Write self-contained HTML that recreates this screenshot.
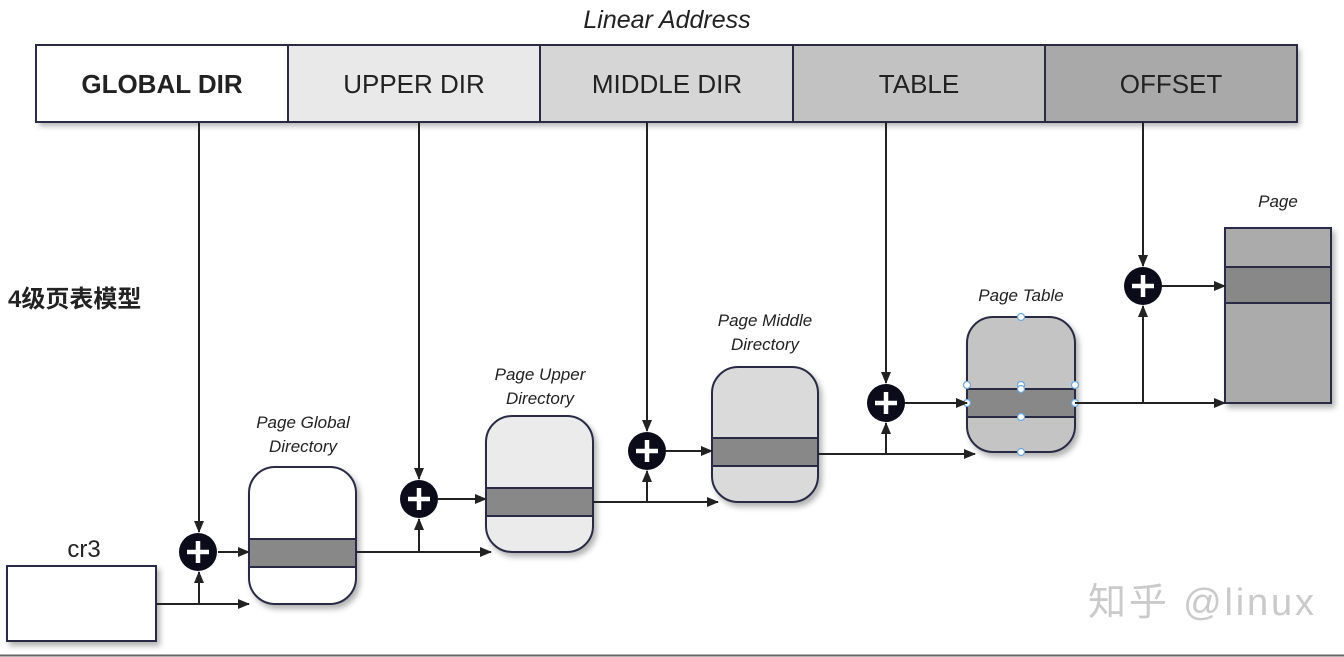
<!DOCTYPE html>
<html><head><meta charset="utf-8"><style>
html,body{margin:0;padding:0;background:#fff;width:1344px;height:657px;overflow:hidden}
svg text{font-family:"Liberation Sans","Noto Sans CJK SC",sans-serif}
</style></head><body>
<svg width="1344" height="657" viewBox="0 0 1344 657" xmlns="http://www.w3.org/2000/svg">
<defs>
<marker id="a" markerWidth="12" markerHeight="10" refX="11" refY="5" orient="auto" markerUnits="userSpaceOnUse"><path d="M0,0 L12,5 L0,10 z" fill="#222"/></marker>
<filter id="sh" x="-10%" y="-10%" width="130%" height="130%"><feDropShadow dx="3" dy="4" stdDeviation="3" flood-color="#000" flood-opacity="0.3"/></filter>
</defs>
<rect x="0" y="0" width="1344" height="657" fill="#fff"/>
<line x1="0" y1="655.5" x2="1344" y2="655.5" stroke="#666" stroke-width="2"/>
<text x="667" y="28" font-size="25" font-style="italic" text-anchor="middle" fill="#222">Linear Address</text>
<g filter="url(#sh)">
<rect x="36" y="45" width="252" height="77" fill="#fff"/>
<rect x="288" y="45" width="252" height="77" fill="#e9e9e9"/>
<rect x="540" y="45" width="253" height="77" fill="#d6d6d6"/>
<rect x="793" y="45" width="252" height="77" fill="#c2c2c2"/>
<rect x="1045" y="45" width="252" height="77" fill="#a9a9a9"/>
</g>
<g fill="none" stroke="#2a2a44" stroke-width="2">
<rect x="36" y="45" width="1261" height="77"/>
<line x1="288" y1="45" x2="288" y2="122"/><line x1="540" y1="45" x2="540" y2="122"/>
<line x1="793" y1="45" x2="793" y2="122"/><line x1="1045" y1="45" x2="1045" y2="122"/>
</g>
<g font-size="26" fill="#222" text-anchor="middle">
<text x="162" y="93" font-weight="bold">GLOBAL DIR</text>
<text x="414" y="93">UPPER DIR</text>
<text x="667" y="93">MIDDLE DIR</text>
<text x="919" y="93">TABLE</text>
<text x="1171" y="93">OFFSET</text>
</g>
<text x="8" y="307" font-size="24" font-weight="bold" fill="#222">4级页表模型</text>
<text x="84" y="557" font-size="24" text-anchor="middle" fill="#222">cr3</text>
<rect x="7" y="566" width="149" height="75" fill="#fff" stroke="#2a2a44" stroke-width="2" filter="url(#sh)"/>
<g stroke="#2a2a44" stroke-width="2" filter="url(#sh)">
<rect x="249" y="467" width="107" height="137" rx="26" fill="#fff"/>
<rect x="486" y="416" width="107" height="136" rx="26" fill="#ebebeb"/>
<rect x="712" y="367" width="106" height="135" rx="26" fill="#dadada"/>
<rect x="967" y="317" width="108" height="135" rx="26" fill="#c4c4c4"/>
<rect x="1225" y="228" width="106" height="175" fill="#ababab"/>
</g>
<g fill="#888" stroke="#2a2a44" stroke-width="2">
<rect x="249" y="539" width="107" height="28"/>
<rect x="486" y="488" width="107" height="28"/>
<rect x="712" y="438" width="106" height="28"/>
<rect x="967" y="389" width="108" height="28"/>
<rect x="1225" y="267" width="106" height="36"/>
</g>
<g fill="#fff" stroke="#6fa8dc" stroke-width="1.2">
<circle cx="1021" cy="317" r="3.5"/><circle cx="1021" cy="452" r="3.5"/><circle cx="1021" cy="385" r="3.5"/><circle cx="1021" cy="389" r="3.5"/><circle cx="1021" cy="417" r="3.5"/>
<circle cx="967" cy="385" r="3.5"/><circle cx="1075" cy="385" r="3.5"/><circle cx="967" cy="403" r="3.5"/><circle cx="1075" cy="403" r="3.5"/>
</g>
<g font-size="17" font-style="italic" fill="#222" text-anchor="middle">
<text x="303" y="428">Page  Global</text><text x="303" y="452">Directory</text>
<text x="540" y="380">Page  Upper</text><text x="540" y="404">Directory</text>
<text x="765" y="326">Page  Middle</text><text x="765" y="350">Directory</text>
<text x="1021" y="301">Page  Table</text>
<text x="1278" y="207">Page</text>
</g>
<g stroke="#222" stroke-width="2" fill="none">
<line x1="199" y1="122" x2="199" y2="532" marker-end="url(#a)"/>
<line x1="419" y1="122" x2="419" y2="479" marker-end="url(#a)"/>
<line x1="647" y1="122" x2="647" y2="431" marker-end="url(#a)"/>
<line x1="886" y1="122" x2="886" y2="383" marker-end="url(#a)"/>
<line x1="1143" y1="122" x2="1143" y2="266" marker-end="url(#a)"/>
<line x1="156" y1="604" x2="249" y2="604" marker-end="url(#a)"/>
<line x1="199" y1="604" x2="199" y2="572" marker-end="url(#a)"/>
<line x1="218" y1="552" x2="249" y2="552" marker-end="url(#a)"/>
<line x1="356" y1="552" x2="491" y2="552" marker-end="url(#a)"/>
<line x1="419" y1="552" x2="419" y2="519" marker-end="url(#a)"/>
<line x1="438" y1="499" x2="486" y2="499" marker-end="url(#a)"/>
<line x1="593" y1="502" x2="718" y2="502" marker-end="url(#a)"/>
<line x1="647" y1="502" x2="647" y2="471" marker-end="url(#a)"/>
<line x1="666" y1="451" x2="712" y2="451" marker-end="url(#a)"/>
<line x1="818" y1="454" x2="975" y2="454" marker-end="url(#a)"/>
<line x1="886" y1="454" x2="886" y2="423" marker-end="url(#a)"/>
<line x1="905" y1="403" x2="967" y2="403" marker-end="url(#a)"/>
<line x1="1075" y1="403" x2="1225" y2="403" marker-end="url(#a)"/>
<line x1="1143" y1="403" x2="1143" y2="306" marker-end="url(#a)"/>
<line x1="1162" y1="286" x2="1225" y2="286" marker-end="url(#a)"/>
</g>
<g>
<g transform="translate(198,552)"><circle r="19" fill="#0b0b1a"/><path d="M-11,0H11M0,-11V11" stroke="#fff" stroke-width="4.5"/></g>
<g transform="translate(419,499)"><circle r="19" fill="#0b0b1a"/><path d="M-11,0H11M0,-11V11" stroke="#fff" stroke-width="4.5"/></g>
<g transform="translate(647,451)"><circle r="19" fill="#0b0b1a"/><path d="M-11,0H11M0,-11V11" stroke="#fff" stroke-width="4.5"/></g>
<g transform="translate(886,403)"><circle r="19" fill="#0b0b1a"/><path d="M-11,0H11M0,-11V11" stroke="#fff" stroke-width="4.5"/></g>
<g transform="translate(1143,286)"><circle r="19" fill="#0b0b1a"/><path d="M-11,0H11M0,-11V11" stroke="#fff" stroke-width="4.5"/></g>
</g>
<text x="1088" y="615" font-size="38" fill="#cacaca" textLength="226" lengthAdjust="spacing">知乎 @linux</text>
</svg>
</body></html>
